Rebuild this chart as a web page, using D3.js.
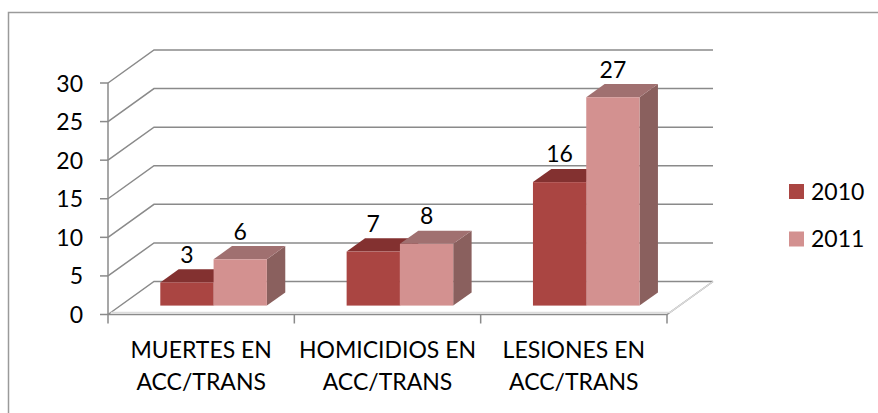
<!DOCTYPE html>
<html>
<head>
<meta charset="utf-8">
<script src="https://cdn.jsdelivr.net/npm/d3@7"></script>
<style>
  body { margin: 0; background: #fff; }
  svg { display: block; font-family: Lato, "Open Sans", sans-serif; }
</style>
</head>
<body>
<svg id="chart" width="878" height="413"></svg>
<script>
// data
var categories = [["MUERTES EN", "ACC/TRANS"], ["HOMICIDIOS EN", "ACC/TRANS"], ["LESIONES EN", "ACC/TRANS"]];
var series = ["2010", "2011"];
var values2010 = [3, 7, 16];
var values2011 = [6, 8, 27];
var yTicks = [0, 5, 10, 15, 20, 25, 30];

var seriesValues = [values2010, values2011];
var colors = {
  "2010": { front: "#aa4542", top: "#833130", side: "#7a3534" },
  "2011": { front: "#d39190", top: "#a07070", side: "#8a605e" }
};

var svg = d3.select("#chart");

// depth projection (Excel-like oblique 3d)
var depthX = 46, depthY = -33;
function proj(x, y, d) { return [x + depthX * d, y + depthY * d]; }

var x = d3.scaleBand()
    .domain(d3.range(categories.length))
    .range([108, 667]);

var y = d3.scaleLinear()
    .domain([0, 30])
    .range([314.5, 83]);

var inner = d3.scaleBand()
    .domain(series)
    .range([0, x.bandwidth() * 0.572]);

var barD0 = 0.27, barD1 = 0.67;

// outer frame
svg.append("rect")
    .attr("x", 8.5).attr("y", 12.5)
    .attr("width", 900).attr("height", 500)
    .attr("fill", "none")
    .attr("stroke", "#9a9a9a")
    .attr("stroke-width", 1.5);

var grid = svg.append("g")
    .attr("stroke", "#8a8a8a")
    .attr("stroke-width", 1.5)
    .attr("fill", "none");

var x0 = x.range()[0], x1 = x.range()[1];

// side wall + back wall gridlines
yTicks.forEach(function(v) {
  var a = proj(x0, y(v), 0), b = proj(x0, y(v), 1), c = proj(x1, y(v), 1);
  grid.append("path").attr("d", d3.line()([a, b, c]));
});

// floor
var f0 = proj(x0, y(0), 0), f1 = proj(x1, y(0), 0), f2 = proj(x1, y(0), 1);
svg.append("path")
    .attr("d", d3.line()([proj(x0, y(0), 0.06), proj(x1, y(0), 0.06), f2]))
    .attr("fill", "none").attr("stroke", "#dcdcdc").attr("stroke-width", 1.5);
grid.append("path").attr("d", d3.line()([f0, f1, f2]));

// value axis
grid.append("line")
    .attr("x1", x0).attr("x2", x0)
    .attr("y1", y(30)).attr("y2", y(0));
yTicks.forEach(function(v) {
  grid.append("line")
      .attr("x1", x0 - 8).attr("x2", x0)
      .attr("y1", y(v)).attr("y2", y(v));
});

// category ticks
d3.range(categories.length + 1).forEach(function(i) {
  var tx = x0 + i * x.bandwidth();
  grid.append("line")
      .attr("x1", tx).attr("x2", tx)
      .attr("y1", y(0)).attr("y2", y(0) + 9);
});

svg.append("g")
  .selectAll("text")
  .data(yTicks)
  .enter()
  .append("text")
    .attr("x", 83)
    .attr("y", d => y(d) + 8.5)
    .attr("text-anchor", "end")
    .style("font-size", "23px")
    .text(d => d);

// bars
var bars = [];
categories.forEach(function(c, i) {
  series.forEach(function(s, j) {
    bars.push({ cat: i, series: s, value: seriesValues[j][i] });
  });
});

var barG = svg.append("g");

bars.forEach(function(d) {
  var bx0 = x(d.cat) + (x.bandwidth() - inner.range()[1]) / 2 + inner(d.series);
  var bx1 = bx0 + inner.bandwidth();
  var yb = y(0), yt = y(d.value);
  var col = colors[d.series];

  // side face
  barG.append("path")
      .attr("d", d3.line()([proj(bx1, yb, barD0), proj(bx1, yb, barD1), proj(bx1, yt, barD1), proj(bx1, yt, barD0)]) + "Z")
      .attr("fill", col.side);
  // top face
  barG.append("path")
      .attr("d", d3.line()([proj(bx0, yt, barD0), proj(bx0, yt, barD1), proj(bx1, yt, barD1), proj(bx1, yt, barD0)]) + "Z")
      .attr("fill", col.top);
  // front face
  var p = proj(bx0, yt, barD0);
  barG.append("rect")
      .attr("x", p[0]).attr("y", p[1])
      .attr("width", bx1 - bx0)
      .attr("height", yb - yt)
      .attr("fill", col.front);

  var lab = proj((bx0 + bx1) / 2, yt, barD1);
  barG.append("text")
      .attr("x", proj((bx0 + bx1) / 2, yt, barD0)[0])
      .attr("y", lab[1] - 6.5)
      .attr("text-anchor", "middle")
      .style("font-size", "23px")
      .text(d.value);
});

// category labels
var catG = svg.append("g");
categories.forEach(function(lines, i) {
  var t = catG.append("text")
      .attr("x", x(i) + x.bandwidth() / 2)
      .attr("y", 358)
      .attr("text-anchor", "middle")
      .style("font-size", "23px");
  lines.forEach(function(l, k) {
    t.append("tspan")
        .attr("x", x(i) + x.bandwidth() / 2)
        .attr("dy", k === 0 ? 0 : 31.5)
        .text(l);
  });
});

// legend
var legend = svg.append("g")
  .selectAll("g")
  .data(series)
  .enter()
  .append("g")
    .attr("transform", (d, i) => "translate(789," + (184 + i * 47.5) + ")");

legend.append("rect")
    .attr("width", 15).attr("height", 15)
    .attr("fill", d => colors[d].front);

legend.append("text")
    .attr("x", 22).attr("y", 15.5)
    .style("font-size", "23px")
    .text(d => d);
</script>
</body>
</html>
